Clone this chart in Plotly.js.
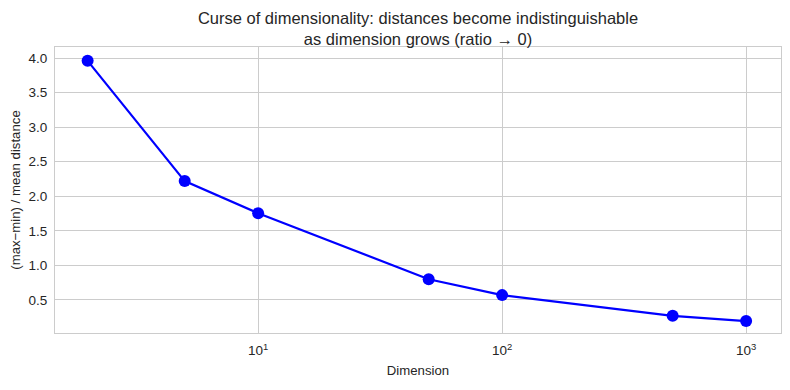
<!DOCTYPE html>
<html>
<head>
<meta charset="utf-8">
<script src="https://cdn.plot.ly/plotly-3.0.1.min.js"></script>
<style>html,body{margin:0;padding:0;background:#fff;}#chart{width:790px;height:390px;}</style>
</head>
<body>
<div id="chart"></div>
<script>
const dimensions = [2, 5, 10, 50, 100, 500, 1000];
const ratios = [3.96, 2.22, 1.755, 0.80, 0.57, 0.27, 0.195];
const xTickVals = [10, 100, 1000];
const xTickText = ['10<sup>1</sup>', '10<sup>2</sup>', '10<sup>3</sup>'];
const yTickVals = [0.5, 1.0, 1.5, 2.0, 2.5, 3.0, 3.5, 4.0];
const yTickText = ['0.5', '1.0', '1.5', '2.0', '2.5', '3.0', '3.5', '4.0'];

const trace = {
  x: dimensions, y: ratios, type: 'scatter', mode: 'lines+markers',
  line: {color: '#0000ff', width: 2.2},
  marker: {color: '#0000ff', size: 12},
  hoverinfo: 'skip'
};
const FAM = 'Liberation Sans, Arial, sans-serif';
const layout = {
  width: 790, height: 390,
  margin: {l: 55, r: 9, t: 47, b: 57},
  paper_bgcolor: '#ffffff', plot_bgcolor: '#ffffff',
  font: {family: FAM, color: '#262626', size: 13.5},
  showlegend: false,
  title: {
    text: 'Curse of dimensionality: distances become indistinguishable<br>as dimension grows (ratio → 0)',
    font: {family: FAM, size: 16.5, color: '#262626'},
    xref: 'paper', x: 0.5, xanchor: 'center',
    yref: 'paper', y: 1.098, yanchor: 'bottom',
    pad: {b: 3}
  },
  xaxis: {
    type: 'log', range: [Math.log10(1.47), Math.log10(1390)],
    tickvals: xTickVals, ticktext: xTickText,
    showgrid: true, gridcolor: '#cccccc', gridwidth: 1,
    showline: true, linecolor: '#cccccc', linewidth: 1, mirror: true,
    zeroline: false, ticks: 'outside', ticklen: 5, tickcolor: 'rgba(0,0,0,0)',
    tickfont: {size: 13.5, color: '#262626'},
    title: {text: 'Dimension', font: {size: 13.2, color: '#262626'}, standoff: 8}
  },
  yaxis: {
    range: [0.022, 4.16],
    tickvals: yTickVals, ticktext: yTickText,
    showgrid: true, gridcolor: '#cccccc', gridwidth: 1,
    showline: true, linecolor: '#cccccc', linewidth: 1, mirror: true,
    zeroline: false, ticks: 'outside', ticklen: 4, tickcolor: 'rgba(0,0,0,0)',
    tickfont: {size: 13.5, color: '#262626'},
    title: {text: '(max−min) / mean distance', font: {size: 13.2, color: '#262626'}, standoff: 4}
  }
};
Plotly.newPlot('chart', [trace], layout, {displayModeBar: false, staticPlot: true});
</script>
</body>
</html>
